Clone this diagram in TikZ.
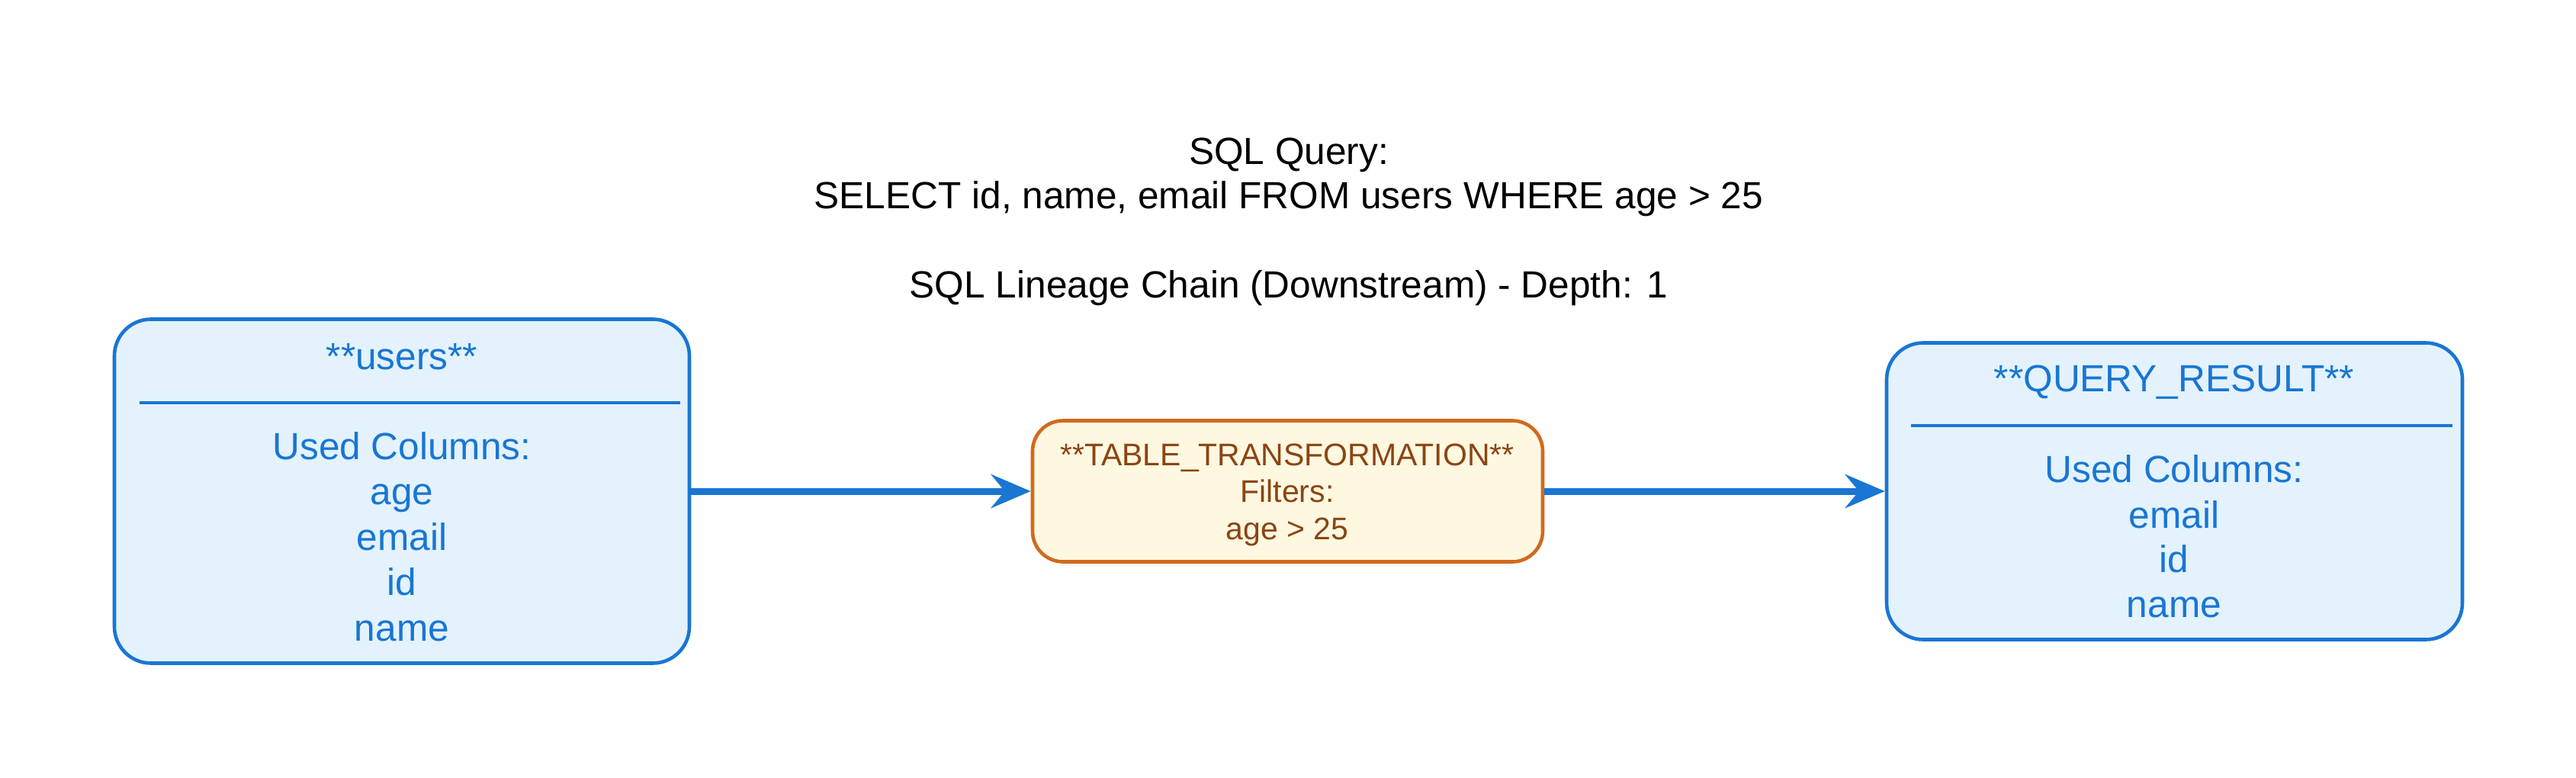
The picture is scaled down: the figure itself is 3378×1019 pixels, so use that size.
\documentclass[tikz,border=0pt]{standalone}
\usepackage{fontspec}
\setmainfont{Liberation Sans}
\usetikzlibrary{arrows.meta}
\definecolor{bluebd}{HTML}{1976D2}
\definecolor{bluefill}{HTML}{E3F2FD}
\definecolor{orgbd}{HTML}{D2691E}
\definecolor{orgfill}{HTML}{FFF8E1}
\definecolor{orgtxt}{HTML}{8B4513}
\tikzset{
  tablebox/.style={draw=bluebd, fill=bluefill, line width=2.3pt, rounded corners=24pt, inner sep=0pt},
  transbox/.style={draw=orgbd, fill=orgfill, line width=2.3pt, rounded corners=20pt, inner sep=0pt},
  sepline/.style={draw=bluebd, line width=2.3pt},
  bigtxt/.style={inner sep=0pt, anchor=base, font=\fontsize{24.8pt}{29.75pt}\selectfont},
  tabtxt/.style={bigtxt, text=bluebd},
  titletxt/.style={bigtxt, text=black},
  transtxt/.style={inner sep=0pt, anchor=base, text=orgtxt, font=\fontsize{20.5pt}{24.5pt}\selectfont},
  flow/.style={draw=bluebd, line width=4.5pt, -{Stealth[length=26pt, width=22pt, inset=9pt]}}
}
\begin{document}
\begin{tikzpicture}[x=0.5pt, y=-0.5pt]
\useasboundingbox (0,0) rectangle (3378,1019);
% titles
\node[titletxt] (t1) at (1690,215) {SQL Query:};
\node[titletxt] (t2) at (1690,273) {SELECT id, name, email FROM users WHERE age > 25};
\node[titletxt] (t3) at (1690,390) {SQL Lineage Chain (Downstream) - Depth: 1};
% boxes
\node[tablebox, minimum width=377pt, minimum height=225.5pt] (users) at (527,644) {};
\node[transbox, minimum width=334.5pt, minimum height=92.5pt] (trans) at (1688.5,644) {};
\node[tablebox, minimum width=377.5pt, minimum height=194.5pt] (result) at (2851.5,644) {};
% users contents
\node[tabtxt] (u0) at (527,484) {**users**};
\coordinate (us1) at (183,528);
\coordinate (us2) at (892,528);
\draw[sepline] (us1) -- (us2);
\node[tabtxt] (u1) at (527,602) {Used Columns:};
\node[tabtxt] (u2) at (527,661.5) {age};
\node[tabtxt] (u3) at (527,721) {email};
\node[tabtxt] (u4) at (527,780.5) {id};
\node[tabtxt] (u5) at (527,840) {name};
% transformation contents
\node[transtxt] (r1) at (1688,610) {**TABLE\_TRANSFORMATION**};
\node[transtxt] (r2) at (1688,658) {Filters:};
\node[transtxt] (r3) at (1688,707) {age > 25};
% result contents
\node[tabtxt] (q0) at (2851,513) {**QUERY\_RESULT**};
\coordinate (qs1) at (2506,558);
\coordinate (qs2) at (3216,558);
\draw[sepline] (qs1) -- (qs2);
\node[tabtxt] (q1) at (2851,632) {Used Columns:};
\node[tabtxt] (q2) at (2851,692) {email};
\node[tabtxt] (q3) at (2851,750.5) {id};
\node[tabtxt] (q4) at (2851,809) {name};
% arrows
\draw[flow] (users) -- (trans);
\draw[flow] (trans) -- (result);
\end{tikzpicture}
\end{document}
